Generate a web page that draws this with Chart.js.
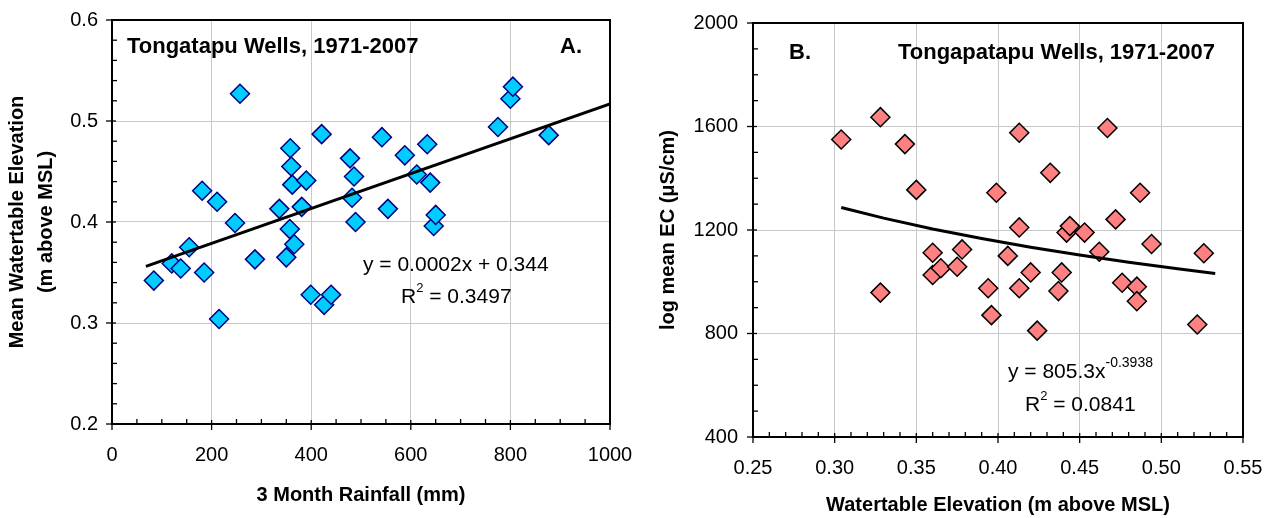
<!DOCTYPE html>
<html>
<head>
<meta charset="utf-8">
<script src="https://cdn.jsdelivr.net/npm/chart.js@4.4.1/dist/chart.umd.min.js"></script>
<style>
  html, body { margin: 0; padding: 0; background: #fff; }
  #wrap { position: relative; width: 1274px; height: 518px; }
  canvas { position: absolute; top: 0; }
  #chartA { left: 0; }
  #chartB { left: 637px; }
</style>
</head>
<body>
<div id="wrap">
  <canvas id="chartA" width="637" height="518"></canvas>
  <canvas id="chartB" width="637" height="518"></canvas>
</div>
<script>
// Panel A: 3 month rainfall vs mean watertable elevation
const rainfallA = [84, 120, 138, 155, 181, 185, 211, 215, 247, 257, 287, 336, 350, 357,
    358, 360, 362, 366, 381, 390, 399, 421, 426, 440, 478, 486, 482, 489, 542, 554,
    588, 612, 633, 639, 646, 650, 775, 800, 805, 877];
const elevationA = [0.342, 0.359, 0.354, 0.375, 0.431, 0.350, 0.420, 0.304, 0.399, 0.527,
    0.363, 0.413, 0.365, 0.393, 0.473, 0.455, 0.437, 0.378, 0.415, 0.441, 0.328, 0.487,
    0.318, 0.328, 0.463, 0.445, 0.424, 0.400, 0.484, 0.413, 0.466, 0.447, 0.477, 0.439,
    0.396, 0.407, 0.494, 0.522, 0.534, 0.486];
const trendXA = [68, 1000];
const trendYA = [0.356, 0.517];
const xTicksA = [0, 200, 400, 600, 800, 1000];
const yTicksA = [0.2, 0.3, 0.4, 0.5, 0.6];

// Panel B: watertable elevation vs log mean EC
const elevationB = [0.304, 0.328, 0.328, 0.343, 0.350, 0.360, 0.360, 0.365, 0.375, 0.378,
    0.394, 0.396, 0.399, 0.406, 0.413, 0.413, 0.413, 0.420, 0.424, 0.432, 0.437, 0.439,
    0.442, 0.444, 0.453, 0.462, 0.467, 0.472, 0.476, 0.485, 0.485, 0.487, 0.494, 0.522, 0.526];
const ecB = [1550, 1636, 958, 1532, 1355, 1112, 1026, 1052, 1058, 1125,
    975, 871, 1344, 1100, 1576, 1210, 975, 1036, 811, 1421, 964, 1036,
    1190, 1215, 1190, 1116, 1594, 1241, 996, 981, 925, 1344, 1146, 835, 1110];
const trendXB = [0.304, 0.33, 0.36, 0.39, 0.42, 0.45, 0.48, 0.51, 0.533];
const trendYB = [1287, 1246, 1204, 1167, 1133, 1103, 1075, 1050, 1032];
const xTicksB = [0.25, 0.30, 0.35, 0.40, 0.45, 0.50, 0.55];
const yTicksB = [400, 800, 1200, 1600, 2000];

const FONT = '"Liberation Sans", Arial, sans-serif';
Chart.defaults.font.family = FONT;
Chart.defaults.color = '#000';

function pairs(xs, ys) {
    return xs.map((x, i) => ({ x, y: ys[i] }));
}

// frame, crossing major ticks, inner minor ticks and the text notes
const axisFrame = {
    id: 'axisFrame',
    afterDraw(chart, args, opts) {
        const { ctx, chartArea: a } = chart;
        ctx.save();
        ctx.strokeStyle = '#000';
        ctx.lineWidth = 2;
        ctx.strokeRect(a.left, a.top, a.right - a.left, a.bottom - a.top);
        ctx.lineWidth = 1.3;
        ['x', 'y'].forEach(id => {
            const s = chart.scales[id];
            const step = opts.minor[id];
            const major = s.ticks.map(t => t.value);
            const n = Math.round((s.max - s.min) / step);
            for (let i = 0; i <= n; i++) {
                const val = s.min + i * step;
                const isMajor = major.some(m => Math.abs(m - val) < step / 10);
                const p = s.getPixelForValue(val);
                ctx.beginPath();
                if (id === 'x') {
                    ctx.moveTo(p, a.bottom + (isMajor ? 6 : 0));
                    ctx.lineTo(p, a.bottom - (isMajor ? 4 : 5));
                } else {
                    ctx.moveTo(a.left - (isMajor ? 6 : 0), p);
                    ctx.lineTo(a.left + (isMajor ? 4 : 5), p);
                }
                ctx.stroke();
            }
        });

        ctx.fillStyle = '#000';
        ctx.textBaseline = 'middle';
        ctx.textAlign = 'left';
        (opts.notes || []).forEach(note => {
            let x = note.x;
            note.parts.forEach(part => {
                const size = part.size || note.size;
                ctx.font = (note.bold ? 'bold ' : '') + size + 'px ' + FONT;
                ctx.fillText(part.t, x, note.y + (part.dy || 0));
                x += ctx.measureText(part.t).width;
            });
        });
        ctx.restore();
    }
};

function axis(opts) {
    return {
        type: 'linear',
        min: opts.ticks[0],
        max: opts.ticks[opts.ticks.length - 1],
        afterBuildTicks: s => { s.ticks = opts.ticks.map(v => ({ value: v })); },
        afterFit: s => {
            if (opts.width) s.width = opts.width;
            if (opts.height) s.height = opts.height;
            // let the layout padding alone decide where the plot area sits
            s.paddingLeft = 0;
            s.paddingRight = 0;
            s.paddingTop = 0;
            s.paddingBottom = 0;
        },
        grid: { color: '#c8c8c8', lineWidth: 1, drawTicks: false },
        border: { color: '#000', width: 2 },
        ticks: {
            font: { size: 20 },
            color: '#000',
            padding: opts.pad,
            callback: v => v.toFixed(opts.digits)
        },
        title: {
            display: true,
            text: opts.title,
            color: '#000',
            font: { size: 20, weight: 'bold', lineHeight: opts.lineHeight || 1.2 },
            padding: opts.titlePad
        }
    };
}

function scatterSet(xs, ys, fill, stroke) {
    return {
        data: pairs(xs, ys),
        pointStyle: 'rectRot',
        pointRadius: 9.5,
        pointHoverRadius: 9.5,
        backgroundColor: fill,
        borderColor: stroke,
        borderWidth: 1.5,
        order: 1
    };
}

function trendSet(xs, ys) {
    return {
        data: pairs(xs, ys),
        showLine: true,
        borderColor: '#000',
        borderWidth: 3,
        pointRadius: 0,
        tension: 0,
        order: 0
    };
}

new Chart(document.getElementById('chartA'), {
    type: 'scatter',
    data: {
        datasets: [
            trendSet(trendXA, trendYA),
            scatterSet(rainfallA, elevationA, '#00CCFF', '#000080')
        ]
    },
    options: {
        responsive: false,
        animation: false,
        layout: { padding: { top: 20, right: 27, left: 0, bottom: 0 } },
        plugins: {
            legend: { display: false },
            tooltip: { enabled: false },
            axisFrame: {
                minor: { x: 50, y: 0.02 },
                notes: [
                    { x: 127, y: 47, size: 22, bold: true, parts: [{ t: 'Tongatapu Wells, 1971-2007' }] },
                    { x: 560, y: 47, size: 22, bold: true, parts: [{ t: 'A.' }] },
                    { x: 363, y: 265, size: 21, parts: [{ t: 'y = 0.0002x + 0.344' }] },
                    { x: 401, y: 297, size: 21, parts: [{ t: 'R' }, { t: '2', size: 13, dy: -9 }, { t: ' = 0.3497' }] }
                ]
            }
        },
        scales: {
            x: axis({ ticks: xTicksA, digits: 0, height: 94, pad: 19,
                title: '3 Month Rainfall (mm)', titlePad: { top: 0, bottom: 11 } }),
            y: axis({ ticks: yTicksA, digits: 1, width: 112, pad: 14,
                title: ['Mean Watertable Elevation', '(m above MSL)'], lineHeight: 1.45,
                titlePad: { top: 3, bottom: 0 } })
        }
    },
    plugins: [axisFrame]
});

new Chart(document.getElementById('chartB'), {
    type: 'scatter',
    data: {
        datasets: [
            trendSet(trendXB, trendYB),
            scatterSet(elevationB, ecB, '#FF8080', '#000000')
        ]
    },
    options: {
        responsive: false,
        animation: false,
        layout: { padding: { top: 23, right: 31, left: 0, bottom: 0 } },
        plugins: {
            legend: { display: false },
            tooltip: { enabled: false },
            axisFrame: {
                minor: { x: 0.01, y: 100 },
                notes: [
                    { x: 152, y: 53, size: 22, bold: true, parts: [{ t: 'B.' }] },
                    { x: 261, y: 53, size: 22, bold: true, parts: [{ t: 'Tongapatapu Wells, 1971-2007' }] },
                    { x: 371, y: 372, size: 21, parts: [{ t: 'y = 805.3x' }, { t: '-0.3938', size: 14, dy: -9 }] },
                    { x: 388, y: 405, size: 21, parts: [{ t: 'R' }, { t: '2', size: 13, dy: -9 }, { t: ' = 0.0841' }] }
                ]
            }
        },
        scales: {
            x: axis({ ticks: xTicksB, digits: 2, height: 81, pad: 19,
                title: 'Watertable Elevation (m above MSL)', titlePad: { top: 0, bottom: 1 } }),
            y: axis({ ticks: yTicksB, digits: 0, width: 116, pad: 15,
                title: 'log mean EC (\u03bcS/cm)', titlePad: { top: 19, bottom: 0 } })
        }
    },
    plugins: [axisFrame]
});
</script>
</body>
</html>
